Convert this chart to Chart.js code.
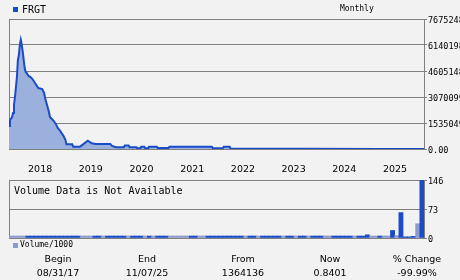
<!DOCTYPE html>
<html><head><meta charset="utf-8">
<script src="https://cdn.jsdelivr.net/npm/chart.js@4/dist/chart.umd.min.js"></script>
<style>
html,body{margin:0;padding:0;background:#f2f2f2;}
body{width:460px;height:280px;position:relative;overflow:hidden;font-family:"DejaVu Sans Mono",monospace;color:#000;}
.abs{position:absolute;white-space:nowrap;}
#c1{position:absolute;left:0;top:0;width:460px;height:175px;}
#c2{position:absolute;left:0;top:170px;width:460px;height:75px;}
.col{position:absolute;width:90px;text-align:center;font-family:"DejaVu Sans",sans-serif;font-size:9.5px;line-height:11px;}
</style></head><body>
<canvas id="c1" width="460" height="175"></canvas>
<canvas id="c2" width="460" height="75"></canvas>
<div class="abs" style="left:13px;top:7px;width:5px;height:5px;background:#1a4cc8"></div>
<div class="abs" id="ticker" style="left:22px;top:4px;font-size:10px;line-height:11px"></div>
<div class="abs" id="freq" style="left:340px;top:4px;font-size:8px;line-height:10px"></div>
<div class="abs" id="volmsg" style="left:14px;top:185px;font-size:10px;line-height:12px"></div>
<div class="abs" style="left:13px;top:243px;width:5px;height:5px;background:#8b9ccc"></div>
<div class="abs" id="vollbl" style="left:20px;top:240px;font-size:8px;line-height:10px"></div>
<div id="summary"></div>
<script>
const ticker = 'FRGT';
const frequency = 'Monthly';
const volumeMessage = 'Volume Data is Not Available';
const volumeLabel = 'Volume/1000';

const priceDates = ['2017-08-31','2017-09-07','2017-09-22','2017-09-29','2017-10-06','2017-10-13','2017-10-20','2017-10-27',
 '2017-11-03','2017-11-10','2017-11-17','2017-11-24','2017-12-01','2017-12-08','2017-12-15','2017-12-22','2017-12-29',
 '2018-01-05','2018-01-19','2018-02-02','2018-02-16','2018-03-02','2018-03-16','2018-03-30','2018-04-27','2018-05-11',
 '2018-05-18','2018-06-01','2018-06-15','2018-06-22','2018-07-06','2018-07-20','2018-08-03','2018-08-17','2018-08-31',
 '2018-09-14','2018-09-28','2018-10-12','2018-10-19','2018-11-30','2018-12-07','2019-01-25','2019-03-22','2019-04-19',
 '2019-05-17','2019-08-30','2019-09-13','2019-10-11','2019-12-06','2019-12-13','2020-01-10','2020-01-17','2020-03-06',
 '2020-03-13','2020-04-03','2020-04-10','2020-05-01','2020-05-08','2020-05-29','2020-06-05','2020-07-31','2020-08-07',
 '2020-10-23','2020-10-30','2021-09-01','2021-09-08','2021-11-19','2021-11-26','2022-01-07','2022-01-14','2023-06-30',
 '2024-12-31','2025-11-07'];
const prices = [1364136,1710000,1890000,2130000,2600000,3070000,3660000,4250000,
 5250000,5550000,6140000,6440000,6140000,5730000,5250000,4780000,4550000,
 4490000,4310000,4250000,4130000,3960000,3780000,3600000,3540000,3310000,
 3010000,2600000,2180000,1890000,1770000,1650000,1480000,1240000,1120000,
 940000,770000,530000,280000,280000,140000,140000,490000,340000,
 300000,300000,180000,100000,100000,200000,200000,100000,100000,
 40000,40000,140000,140000,40000,40000,140000,140000,60000,
 60000,130000,130000,40000,40000,130000,130000,20000,10000,
 5000,0.8401];
const priceTickLabels = ['0.00','1535049','3070099','4605148','6140198','7675248'];
const priceMax = 7675248;
const startDate = '2017-08-31';
const endDate = '2025-11-07';
const yearLabels = ['2018','2019','2020','2021','2022','2023','2024','2025'];

// monthly volume bars (Sep 2017 .. Nov 2025), in thousands
const volumes = [5,5,5,5,5,5,5,5,5,5,5,5,5,5,5,5,5,5,5,5,
 5,5,5,5,5,5,5,5,5,5,5,5,5,5,5,5,5,5,5,5,
 5,5,5,5,5,5,5,5,5,5,5,5,5,5,5,5,5,5,5,5,
 5,5,5,5,5,5,5,5,5,5,5,5,5,5,5,5,5,5,5,5,
 5,5,5,5,5,8,5,5,5,5,5,19,6,64,3,3,4,36,146];
const volumeDir = ['d','d','d','d','u','u','u','u','u','u','u','u','u','u','u','u','u','d','d','d',
 'u','u','d','u','u','u','u','u','d','u','u','u','d','u','d','u','u','u','d','d',
 'd','d','d','u','u','d','d','u','u','u','u','u','u','u','u','u','d','u','u','d',
 'u','u','u','u','u','d','u','u','d','u','u','d','u','u','u','d','d','u','u','u',
 'u','u','d','u','u','u','d','d','u','d','d','u','d','u','u','u','u','d','u'];
const volTickLabels = ['0','73','146'];
const volMax = 146;

const summaryHeads = ['Begin','End','From','Now','% Change'];
const summaryVals = ['08/31/17','11/07/25','1364136','0.8401','-99.99%'];
const summaryCenters = [58,147,243,330,417];

document.getElementById('ticker').textContent = ticker;
document.getElementById('freq').textContent = frequency;
document.getElementById('volmsg').textContent = volumeMessage;
document.getElementById('vollbl').textContent = volumeLabel;
const sum = document.getElementById('summary');
summaryHeads.forEach((h,i)=>{
  const a=document.createElement('div');a.className='col';a.style.left=(summaryCenters[i]-45)+'px';a.style.top='253px';a.textContent=h;sum.appendChild(a);
  const b=document.createElement('div');b.className='col';b.style.left=(summaryCenters[i]-45)+'px';b.style.top='267px';b.textContent=summaryVals[i];sum.appendChild(b);
});

const DAY = 86400000;
const dayOf = s => (Date.parse(s) - Date.parse(startDate)) / DAY;

const GRID = '#808080';
const BLUE = '#1a4cc8';
const LIGHT = '#8b9ccc';

const frame = {
  id: 'frame',
  beforeDatasetsDraw(chart) {
    const {ctx, chartArea: a} = chart;
    ctx.save();
    ctx.strokeStyle = GRID; ctx.lineWidth = 1;
    ctx.beginPath();
    ctx.moveTo(Math.round(a.left)+0.5, Math.round(a.top)+0.5);
    ctx.lineTo(Math.round(a.left)+0.5, Math.round(a.bottom)+0.5);
    ctx.lineTo(Math.round(a.right)+0.5, Math.round(a.bottom)+0.5);
    ctx.stroke();
    ctx.restore();
  }
};

Chart.defaults.font.family = '"DejaVu Sans Mono", monospace';
Chart.defaults.color = '#000';

new Chart(document.getElementById('c1'), {
  type: 'line',
  data: {
    datasets: [{
      data: priceDates.map((d,i)=>({x: dayOf(d), y: prices[i]})),
      borderColor: BLUE, borderWidth: 2, backgroundColor: '#9cb0de',
      fill: 'origin', pointRadius: 0, tension: 0
    }]
  },
  options: {
    responsive: false, animation: false, events: [],
    layout: {padding: {left: 9, top: 19, right: 0, bottom: 0}},
    plugins: {legend: {display: false}, tooltip: {enabled: false}},
    scales: {
      x: {
        type: 'linear', min: 0, max: dayOf(endDate),
        afterBuildTicks: s => { s.ticks = yearLabels.map(y => ({value: dayOf(y + '-01-01')})); },
        afterFit: s => { s.height = 26; },
        ticks: {autoSkip: false, maxRotation: 0, align: 'start', labelOffset: 2, padding: 15,
          font: {family: '"DejaVu Sans", sans-serif', size: 9.5},
          callback: (v, i) => yearLabels[i]},
        grid: {display: false, drawTicks: false},
        border: {display: false}
      },
      y: {
        position: 'right', min: 0, max: priceMax,
        afterBuildTicks: s => { s.ticks = priceTickLabels.map((_, i) => ({value: priceMax * i / (priceTickLabels.length - 1)})); },
        afterFit: s => { s.width = 36; },
        ticks: {padding: 1, labelOffset: 2, font: {size: 8.5}, callback: (v, i) => priceTickLabels[i]},
        grid: {color: GRID, lineWidth: 1, tickLength: 3},
        border: {color: GRID}
      }
    }
  },
  plugins: [frame]
});

const months = [];
for (let k = 0; k < volumes.length; k++) {
  const m = 8 + k; months.push((2017 + Math.floor(m / 12)) + '-' + String(m % 12 + 1).padStart(2, '0'));
}

new Chart(document.getElementById('c2'), {
  type: 'bar',
  data: {
    labels: months,
    datasets: [{
      data: volumes,
      backgroundColor: volumeDir.map(d => d === 'u' ? BLUE : LIGHT),
      categoryPercentage: 1, barPercentage: 1, borderWidth: 0
    }]
  },
  options: {
    responsive: false, animation: false, events: [],
    layout: {padding: {left: 9, top: 10, right: 0, bottom: 7}},
    plugins: {legend: {display: false}, tooltip: {enabled: false}},
    scales: {
      x: {display: false, offset: true},
      y: {
        position: 'right', min: 0, max: volMax,
        afterBuildTicks: s => { s.ticks = volTickLabels.map((_, i) => ({value: volMax * i / (volTickLabels.length - 1)})); },
        afterFit: s => { s.width = 36; },
        ticks: {padding: 1, labelOffset: 2, font: {size: 8.5}, callback: (v, i) => volTickLabels[i]},
        grid: {color: GRID, lineWidth: 1, tickLength: 3},
        border: {color: GRID}
      }
    }
  },
  plugins: [frame]
});
</script>
</body></html>
